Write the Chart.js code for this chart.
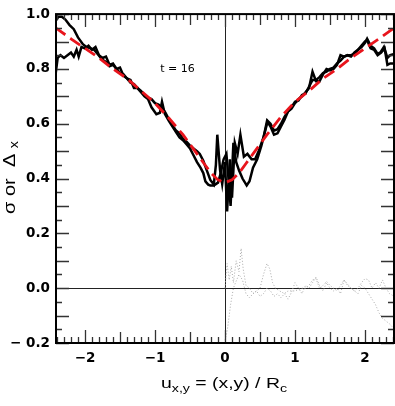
<!DOCTYPE html>
<html><head><meta charset="utf-8">
<script src="https://cdn.jsdelivr.net/npm/chart.js@4.4.1/dist/chart.umd.min.js"></script>
<style>html,body{margin:0;padding:0;background:#fff;}#wrap{width:395px;height:406px;}</style>
</head><body><div id="wrap"><canvas id="c" width="395" height="406"></canvas></div>
<script>
// ---- data ----
const xTickValues = [-2, -1, 0, 1, 2];
const yTickValues = [-0.2, 0.0, 0.2, 0.4, 0.6, 0.8, 1.0];
const annotationText = 't = 16';

const sigmaAx = [-2.42,-2.38,-2.33,-2.28,-2.22,-2.16,-2.1,-2.03,-1.98,-1.92,-1.87,-1.82,-1.76,-1.7,-1.65,-1.6,-1.55,-1.5,-1.45,-1.4,-1.35,-1.3,-1.25,-1.2,-1.15,-1.1,-1.05,-1.0,-0.95,-0.9,-0.85,-0.8,-0.75,-0.7,-0.65,-0.6,-0.55,-0.5,-0.45,-0.4,-0.36,-0.31,-0.26,-0.21,-0.16,-0.13,-0.11,-0.07,-0.04,0.0,0.03,0.07,0.1,0.14,0.18,0.22,0.27,0.32,0.38,0.43,0.48,0.55,0.6,0.65,0.7,0.75,0.8,0.85,0.9,0.95,1.0,1.05,1.1,1.15,1.2,1.25,1.3,1.35,1.4,1.45,1.5,1.55,1.6,1.65,1.7,1.75,1.8,1.85,1.9,1.95,2.0,2.03,2.08,2.13,2.18,2.22,2.27,2.32,2.36,2.42];
const sigmaAy = [0.975,0.99,0.99,0.98,0.96,0.945,0.915,0.89,0.88,0.875,0.87,0.855,0.835,0.825,0.81,0.815,0.80,0.785,0.78,0.765,0.75,0.745,0.73,0.72,0.705,0.695,0.69,0.675,0.67,0.66,0.64,0.615,0.595,0.575,0.565,0.545,0.535,0.52,0.51,0.50,0.49,0.465,0.43,0.395,0.378,0.45,0.56,0.43,0.38,0.46,0.28,0.47,0.33,0.53,0.49,0.56,0.48,0.49,0.47,0.47,0.50,0.55,0.61,0.59,0.56,0.565,0.59,0.615,0.645,0.655,0.675,0.69,0.70,0.715,0.73,0.79,0.755,0.755,0.78,0.80,0.795,0.80,0.815,0.85,0.845,0.85,0.845,0.86,0.87,0.88,0.895,0.91,0.885,0.875,0.855,0.86,0.88,0.84,0.85,0.855];

const sigmaBx = [-2.42,-2.39,-2.35,-2.3,-2.25,-2.2,-2.16,-2.12,-2.09,-2.05,-2.0,-1.95,-1.9,-1.85,-1.8,-1.75,-1.7,-1.65,-1.6,-1.55,-1.5,-1.45,-1.4,-1.35,-1.3,-1.25,-1.2,-1.15,-1.1,-1.05,-0.98,-0.93,-0.9,-0.86,-0.8,-0.75,-0.7,-0.65,-0.6,-0.55,-0.5,-0.45,-0.4,-0.35,-0.31,-0.28,-0.24,-0.21,-0.16,-0.1,-0.06,-0.02,0.02,0.05,0.08,0.12,0.16,0.2,0.25,0.31,0.35,0.4,0.46,0.52,0.57,0.61,0.65,0.7,0.75,0.8,0.85,0.9,0.95,1.0,1.05,1.1,1.15,1.2,1.25,1.3,1.35,1.4,1.45,1.5,1.55,1.6,1.65,1.7,1.75,1.8,1.85,1.9,1.95,2.0,2.03,2.08,2.13,2.18,2.23,2.28,2.32,2.36,2.42];
const sigmaBy = [0.78,0.84,0.85,0.84,0.85,0.86,0.845,0.87,0.845,0.88,0.875,0.885,0.87,0.88,0.85,0.84,0.845,0.815,0.82,0.80,0.805,0.775,0.765,0.76,0.73,0.73,0.715,0.70,0.69,0.66,0.635,0.64,0.68,0.636,0.61,0.59,0.57,0.55,0.54,0.525,0.51,0.485,0.46,0.44,0.42,0.39,0.378,0.375,0.375,0.385,0.42,0.47,0.49,0.40,0.30,0.53,0.46,0.43,0.40,0.375,0.39,0.44,0.47,0.52,0.57,0.61,0.60,0.575,0.58,0.60,0.625,0.645,0.66,0.68,0.685,0.705,0.71,0.735,0.76,0.76,0.77,0.785,0.79,0.80,0.805,0.82,0.83,0.845,0.85,0.85,0.855,0.87,0.885,0.90,0.905,0.875,0.87,0.85,0.86,0.875,0.815,0.82,0.82];

const modelX = [-2.42,-2.2,-2.0,-1.8,-1.6,-1.4,-1.2,-1.0,-0.8,-0.6,-0.4,-0.3,-0.2,-0.1,0.0,0.1,0.2,0.3,0.4,0.6,0.8,1.0,1.2,1.4,1.6,1.8,2.0,2.2,2.42];
const modelY = [0.95,0.91,0.875,0.84,0.80,0.765,0.72,0.675,0.62,0.56,0.49,0.455,0.42,0.395,0.385,0.395,0.42,0.455,0.49,0.56,0.625,0.68,0.72,0.765,0.80,0.84,0.875,0.91,0.95];

const deltaAx = [0.0,0.02,0.04,0.06,0.08,0.1,0.12,0.15,0.2,0.25,0.3,0.35,0.4,0.45,0.5,0.55,0.6,0.65,0.7,0.75,0.8,0.85,0.9,0.95,1.0,1.05,1.1,1.15,1.2,1.25,1.3,1.35,1.4,1.45,1.5,1.55,1.6,1.65,1.7,1.75,1.8,1.85,1.9,1.95,2.0,2.05,2.1,2.15,2.2,2.25,2.3,2.35,2.42];
const deltaAy = [-0.19,-0.17,-0.14,-0.10,-0.06,-0.03,0.0,0.02,0.05,0.03,-0.02,-0.035,-0.02,-0.01,-0.03,-0.02,0.0,-0.01,-0.03,-0.02,-0.035,-0.02,-0.04,-0.015,0.02,0.0,-0.02,0.01,0.0,0.02,0.04,0.01,-0.01,0.02,0.0,-0.01,0.0,-0.02,0.03,0.01,0.0,-0.01,-0.02,0.01,0.0,-0.02,-0.04,-0.06,-0.09,-0.11,-0.12,-0.13,-0.15];
const deltaBx = [0.0,0.03,0.06,0.09,0.12,0.16,0.2,0.23,0.26,0.3,0.35,0.4,0.45,0.5,0.55,0.6,0.64,0.68,0.72,0.78,0.85,0.9,1.0,1.1,1.15,1.2,1.25,1.3,1.35,1.4,1.45,1.5,1.55,1.6,1.65,1.7,1.75,1.8,1.85,1.9,1.95,2.0,2.05,2.1,2.15,2.2,2.25,2.3,2.35,2.42];
const deltaBy = [0.0,0.09,0.03,0.08,0.02,0.10,0.06,0.145,0.07,0.01,0.0,-0.02,-0.01,0.0,0.05,0.09,0.07,0.02,0.0,-0.01,-0.02,-0.01,-0.01,0.0,0.0,0.01,0.03,0.035,0.0,0.01,0.025,0.01,0.0,-0.01,0.01,0.03,0.015,0.0,-0.01,0.0,0.02,0.035,0.03,0.0,0.02,0.0,0.03,0.0,-0.02,-0.03];

const pts = (xs, ys) => xs.map((x, i) => ({x, y: ys[i]}));

const FONT = "'DejaVu Sans', sans-serif";
const MINUS = '\u2212';

const decor = {
  id: 'decor',
  beforeDatasetsDraw(chart) {
    const {ctx, chartArea: a, scales: {x, y}} = chart;
    ctx.save();
    ctx.strokeStyle = '#222'; ctx.lineWidth = 1;
    const x0 = Math.round(x.getPixelForValue(0)) + 0.5;
    const y0 = Math.round(y.getPixelForValue(0)) + 0.5;
    ctx.beginPath();
    ctx.moveTo(x0, a.top); ctx.lineTo(x0, a.bottom);
    ctx.moveTo(a.left, y0); ctx.lineTo(a.right, y0);
    ctx.stroke();
    ctx.restore();
  },
  afterDraw(chart) {
    const {ctx, chartArea: a, scales: {x, y}} = chart;
    ctx.save();
    // inward ticks on all four sides
    ctx.strokeStyle = '#333'; ctx.lineWidth = 1.3;
    ctx.beginPath();
    for (let i = -24; i <= 24; i++) {
      const v = i / 10;
      if (v < x.min || v > x.max) continue;
      const len = i % 10 === 0 ? 13 : (i % 5 === 0 ? 11 : 6);
      const px = Math.round(x.getPixelForValue(v)) + 0.5;
      ctx.moveTo(px, a.bottom); ctx.lineTo(px, a.bottom - len);
      ctx.moveTo(px, a.top); ctx.lineTo(px, a.top + len);
    }
    for (let j = -4; j <= 20; j++) {
      const v = j * 0.05;
      const len = j % 2 === 0 ? 13 : 6;
      const py = Math.round(y.getPixelForValue(v)) + 0.5;
      ctx.moveTo(a.left, py); ctx.lineTo(a.left + len, py);
      ctx.moveTo(a.right, py); ctx.lineTo(a.right - len, py);
    }
    ctx.stroke();
    // frame
    ctx.strokeStyle = '#000'; ctx.lineWidth = 2;
    ctx.strokeRect(a.left, a.top, a.right - a.left, a.bottom - a.top);

    // annotation
    ctx.fillStyle = '#000';
    ctx.font = "11px " + FONT;
    ctx.textAlign = 'center'; ctx.textBaseline = 'middle';
    ctx.fillText(annotationText, x.getPixelForValue(-0.68), y.getPixelForValue(0.8));

    // axis titles
    ctx.textAlign = 'left'; ctx.textBaseline = 'alphabetic';
    const xParts = [{t:'u'},{t:'x,y',sub:true},{t:' = (x,y) / R'},{t:'c',sub:true}];
    ctx.save();
    ctx.translate((a.left + a.right) / 2 - 1, 388);
    drawRich(ctx, xParts, "15px 'Liberation Sans', Arial, sans-serif", "11px 'Liberation Sans', Arial, sans-serif", 4, 126);
    ctx.restore();
    const yParts = [{t:'\u03c3 or  \u0394 '},{t:'x',sub:true}];
    ctx.save();
    ctx.translate(15, (a.top + a.bottom) / 2 - 1);
    ctx.rotate(-Math.PI / 2);
    drawRich(ctx, yParts, "17px 'Liberation Sans', Arial, sans-serif", "12px 'Liberation Sans', Arial, sans-serif", 3, 73);
    ctx.restore();
    ctx.restore();
  }
};

function drawRich(ctx, parts, mf, sf, shift, target) {
  let w = 0;
  for (const p of parts) { ctx.font = p.sub ? sf : mf; w += ctx.measureText(p.t).width; }
  const s = target / w;
  ctx.scale(s, 1);
  let cx = -w / 2;
  for (const p of parts) {
    ctx.font = p.sub ? sf : mf;
    ctx.fillText(p.t, cx, p.sub ? shift : 0);
    cx += ctx.measureText(p.t).width;
  }
}

new Chart(document.getElementById('c'), {
  type: 'line',
  data: {
    datasets: [
      {data: pts(modelX, modelY), borderColor: '#e8141c', borderWidth: 2.8, borderDash: [12, 6], pointRadius: 0, order: 0},
      {data: pts(sigmaAx, sigmaAy), borderColor: '#000', borderWidth: 2.5, pointRadius: 0, order: 1},
      {data: pts(sigmaBx, sigmaBy), borderColor: '#000', borderWidth: 2.5, pointRadius: 0, order: 1},
      {data: pts(deltaAx, deltaAy), borderColor: '#a8a8a8', borderWidth: 1, borderDash: [1, 2], pointRadius: 0, order: 2},
      {data: pts(deltaBx, deltaBy), borderColor: '#a8a8a8', borderWidth: 1, borderDash: [1, 2], pointRadius: 0, order: 2}
    ]
  },
  options: {
    responsive: false, devicePixelRatio: 1, animation: false, events: [],
    layout: {padding: {top: 7, right: 1, left: 0, bottom: 0}},
    plugins: {legend: {display: false}, tooltip: {enabled: false}},
    scales: {
      x: {
        type: 'linear', min: -2.414, max: 2.414,
        grid: {display: false, drawTicks: false}, border: {display: false},
        afterFit: s => { s.height = 63; },
        afterBuildTicks: s => { s.ticks = xTickValues.map(v => ({value: v})); },
        ticks: {padding: 7, color: '#000', font: {family: FONT, size: 13.5, weight: 'bold'},
          callback: v => { const r = Math.round(v); return r < 0 ? MINUS + Math.abs(r) : String(r); }}
      },
      y: {
        type: 'linear', min: -0.2, max: 1.0,
        grid: {display: false, drawTicks: false}, border: {display: false},
        afterFit: s => { s.width = 56; },
        afterBuildTicks: s => { s.ticks = yTickValues.map(v => ({value: v})); },
        ticks: {padding: 6, color: '#000', font: {family: FONT, size: 13.5, weight: 'bold'},
          callback: v => { const t = Math.abs(v) < 1e-9 ? 0 : v; return t < 0 ? MINUS + ' ' + Math.abs(t).toFixed(1) : t.toFixed(1); }}
      }
    }
  },
  plugins: [decor]
});
</script>
</body></html>
